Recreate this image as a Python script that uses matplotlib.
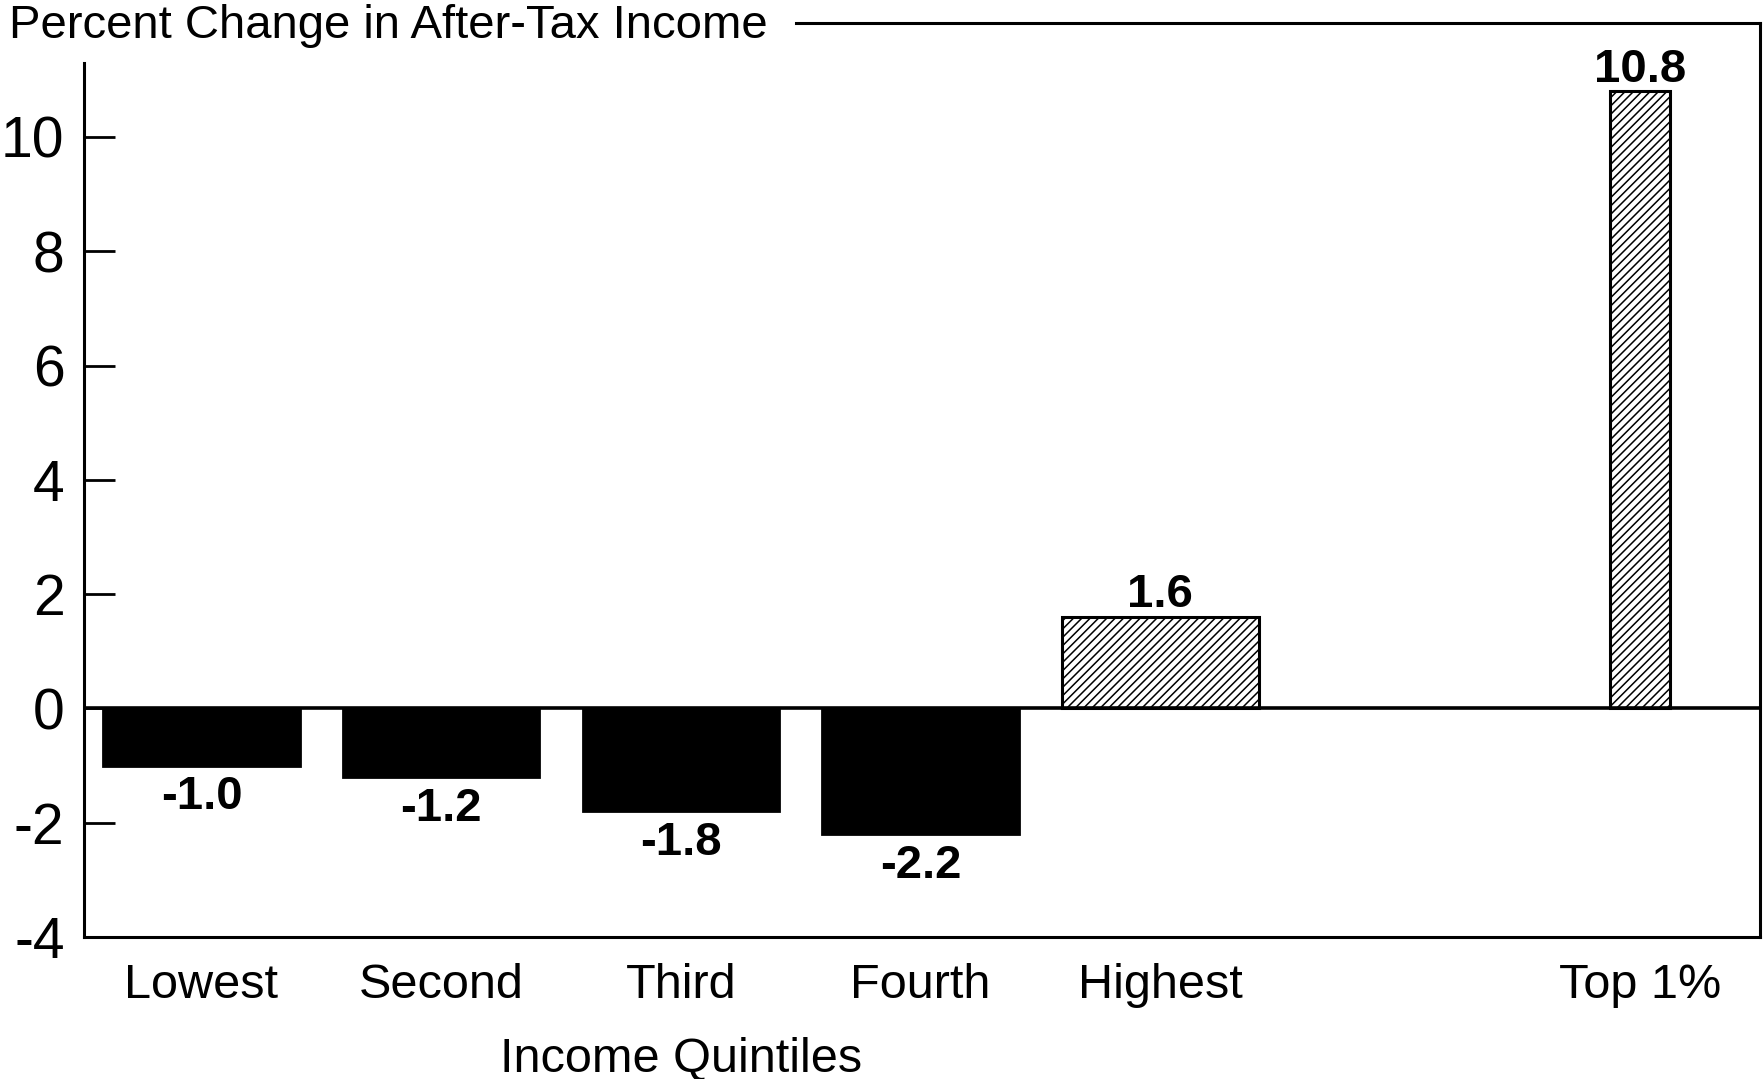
import numpy as np
import matplotlib.pyplot as plt

plt.rcParams['font.family'] = ['Liberation Sans', 'DejaVu Sans']
plt.rcParams['hatch.linewidth'] = 1.1

groups = ['Lowest', 'Second', 'Third', 'Fourth', 'Highest', 'Top 1%']
change = [-1.0, -1.2, -1.8, -2.2, 1.6, 10.8]
xpos = [0, 1, 2, 3, 4, 6]
widths = [0.82, 0.82, 0.82, 0.82, 0.82, 0.25]
yticks = [-4, -2, 0, 2, 4, 6, 8, 10]

fig = plt.figure(figsize=(17.65, 10.79), dpi=100)
ax = fig.add_axes([0.0476, 0.1316, 0.997 - 0.0476, 0.979 - 0.1316])

for x, v, w in zip(xpos, change, widths):
    if v < 0:
        ax.bar(x, v, width=w, color='black', edgecolor='black', linewidth=2)
        ax.annotate(f'{v:.1f}', (x, v), xytext=(0, -7), textcoords='offset points',
                    ha='center', va='top', fontsize=34, fontweight='bold')
    else:
        ax.bar(x, v, width=w, color='white', edgecolor='black', linewidth=2.2, hatch='////')
        ax.annotate(f'{v:.1f}', (x, v), xytext=(0, 7), textcoords='offset points',
                    ha='center', va='baseline', fontsize=34, fontweight='bold')

ax.axhline(0, color='black', linewidth=2.6, zorder=5)

ax.set_xlim(-0.49, 6.5)
ax.set_ylim(-4, 12)
ax.set_yticks(yticks)
ax.set_yticklabels([str(t) for t in yticks], fontsize=41)
ax.set_xticks(xpos)
ax.set_xticklabels(groups, fontsize=35)
ax.tick_params(axis='y', direction='in', length=22, width=2, pad=14)
ax.tick_params(axis='x', length=0, pad=19)

for s in ['left', 'right', 'bottom']:
    ax.spines[s].set_linewidth(2.2)
ax.spines['top'].set_visible(False)
ax.spines['left'].set_bounds(-4, 11.3)
ax.plot([0.425, 1], [1, 1], transform=ax.transAxes, color='black',
        linewidth=2.2, clip_on=False)

fig.text(0.005, 0.976, 'Percent Change in After-Tax Income', fontsize=34,
         ha='left', va='center')
ax.text(2, -6.15, 'Income Quintiles', fontsize=35, ha='center', va='center')

fig.savefig('out.png', dpi=100)
